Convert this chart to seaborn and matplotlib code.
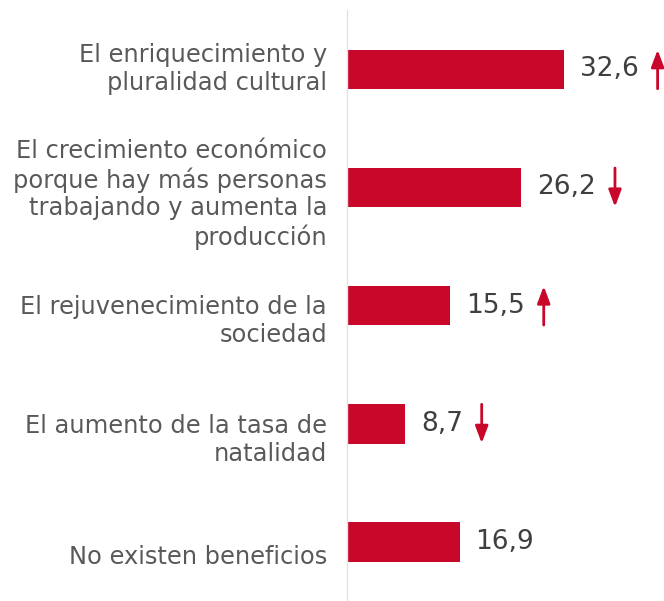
import matplotlib
matplotlib.use("Agg")
import matplotlib.pyplot as plt
from matplotlib.text import OffsetFrom
import seaborn as sns
import pandas as pd

categories = [
    "El enriquecimiento y\npluralidad cultural",
    "El crecimiento económico\nporque hay más personas\ntrabajando y aumenta la\nproducción",
    "El rejuvenecimiento de la\nsociedad",
    "El aumento de la tasa de\nnatalidad",
    "No existen beneficios",
]
values = [32.6, 26.2, 15.5, 8.7, 16.9]
value_labels = ["32,6", "26,2", "15,5", "8,7", "16,9"]
trends = ["up", "down", "up", "down", None]

# layout (pixels down from bar centre for each label block)
label_shift_px = [0, 7, 15, 16, 15]

RED = "#C8072A"
LABEL_GRAY = "#595959"
VALUE_GRAY = "#3f3f3f"

sns.set_theme(style="white")
plt.rcParams["font.family"] = ["DejaVu Sans"]

df = pd.DataFrame({"cat": categories, "val": values})

fig = plt.figure(figsize=(6.64, 6.01), dpi=100)
ax = fig.add_axes([0.5226, 0.0, 0.4774, 0.983])

sns.barplot(data=df, y="cat", x="val", color=RED, saturation=1, width=0.335,
            orient="h", ax=ax, edgecolor="none")

ax.set_xlim(0, 47.6)
ax.set_ylim(4.5, -0.5)
ax.set_xlabel("")
ax.set_ylabel("")
ax.set_xticks([])
ax.set_yticks(range(len(categories)))
ax.set_yticklabels([])
ax.tick_params(left=False, bottom=False)
for s in ["top", "right", "bottom"]:
    ax.spines[s].set_visible(False)
ax.spines["left"].set_color("#e2e2e2")
ax.spines["left"].set_linewidth(1.0)

px = 0.72  # points per pixel at dpi 100
for i, (cat, v, lab, tr) in enumerate(zip(categories, values, value_labels, trends)):
    ax.annotate(cat, xy=(0, i), xytext=(-20 * px, -label_shift_px[i] * px),
                textcoords="offset points", ha="right", va="center",
                fontsize=17.4, color=LABEL_GRAY, linespacing=1.2, multialignment="right")
    t = ax.annotate(lab, xy=(v, i), xytext=(16 * px, 0), textcoords="offset points",
                    ha="left", va="center", fontsize=19, color=VALUE_GRAY)
    if tr is not None:
        off = OffsetFrom(t, (1.0, 0.5), unit="points")
        if tr == "up":
            y0, y1 = -14, 14
        else:
            y0, y1 = 14, -14
        ax.annotate("", xy=(13.5, y1), xycoords=off, xytext=(13.5, y0), textcoords=off,
                    arrowprops=dict(arrowstyle="-|>,head_length=0.85,head_width=0.32",
                                    color=RED, lw=2, shrinkA=0, shrinkB=0))

fig.savefig("out.png", dpi=100, facecolor="white")
